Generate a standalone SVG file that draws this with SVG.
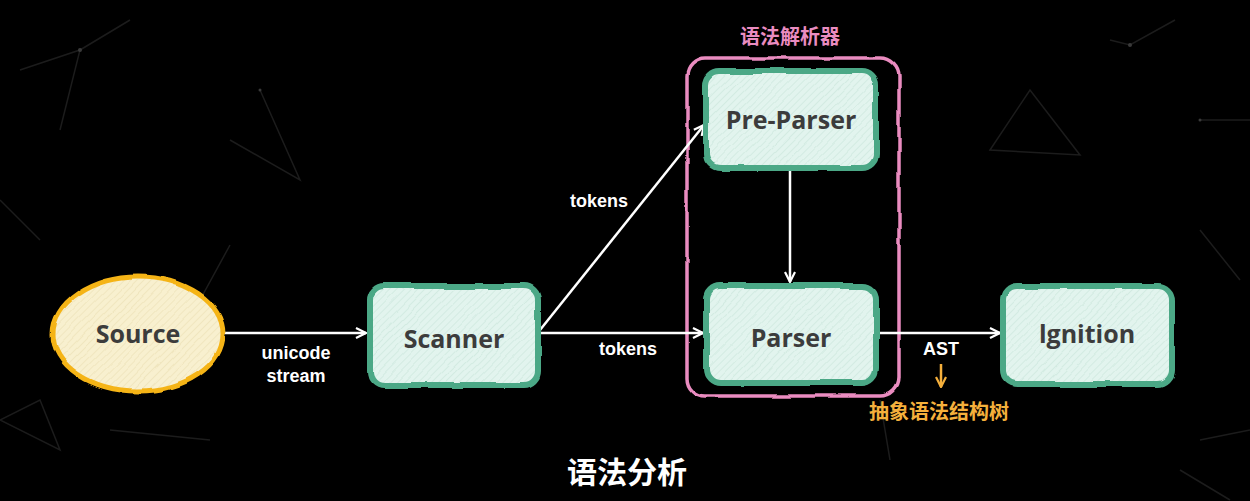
<svg xmlns="http://www.w3.org/2000/svg" width="1250" height="501" viewBox="0 0 1250 501">
<style>
.node-text{font-family:"Open Sans","Noto Sans","Noto Sans CJK SC",sans-serif;font-weight:700;font-size:25px;fill:#3c3c3c;text-anchor:middle;dominant-baseline:central}
.lbl{font-family:"Liberation Sans","Noto Sans CJK SC",sans-serif;font-weight:700;font-size:18px;fill:#ffffff;text-anchor:middle}
.cjk{font-family:"Noto Sans CJK SC",sans-serif;font-weight:700;text-anchor:middle}
.box{fill:url(#hatchG);stroke:#4ba886;stroke-width:6;filter:url(#rough)}
.conn{stroke:#ffffff;stroke-width:2.5;fill:none;marker-end:url(#arr)}
.bg{stroke:#1c1c1c;stroke-width:1.5;fill:none}
.star{fill:#3a3a3a}
</style>
<defs>
<pattern id="hatchG" width="5" height="5" patternUnits="userSpaceOnUse" patternTransform="rotate(45)">
<rect width="5" height="5" fill="#e2f4ee"/>
<line x1="0" y1="0" x2="0" y2="5" stroke="#c9e6db" stroke-width="1.2"/>
</pattern>
<pattern id="hatchY" width="5" height="5" patternUnits="userSpaceOnUse" patternTransform="rotate(45)">
<rect width="5" height="5" fill="#f8f0cf"/>
<line x1="0" y1="0" x2="0" y2="5" stroke="#ebe0b5" stroke-width="1.2"/>
</pattern>
<filter id="rough" x="-5%" y="-5%" width="110%" height="110%">
<feTurbulence type="fractalNoise" baseFrequency="0.03" numOctaves="2" seed="3" result="n"/>
<feDisplacementMap in="SourceGraphic" in2="n" scale="4" xChannelSelector="R" yChannelSelector="G"/>
</filter>
<marker id="arr" viewBox="0 0 12 12" refX="11" refY="6" markerWidth="12" markerHeight="12" markerUnits="userSpaceOnUse" orient="auto">
<path d="M1,1 L11,6 L1,11" fill="none" stroke="#ffffff" stroke-width="2.2"/>
</marker>
<marker id="arrO" viewBox="0 0 12 12" refX="11" refY="6" markerWidth="12" markerHeight="12" markerUnits="userSpaceOnUse" orient="auto">
<path d="M1,1 L11,6 L1,11" fill="none" stroke="#f5b03c" stroke-width="2.2"/>
</marker>
</defs>
<rect width="1250" height="501" fill="#000000"/>
<g id="background">
<path class="bg" d="M20,70 L80,50 L60,130 M80,50 L130,20 M0,200 L40,240 M230,140 L300,180 L260,90 M990,150 L1030,90 L1080,155 Z M1110,40 L1130,45 L1175,20 M1200,120 L1250,120 M1200,230 L1240,280 M0,420 L40,400 L60,450 Z M110,430 L210,440 M1200,440 L1250,430 M1180,470 L1230,500 M880,400 L890,460 M230,245 L200,300"/>
<circle class="star" cx="80" cy="50" r="2"/><circle class="star" cx="1130" cy="45" r="2"/><circle class="star" cx="260" cy="90" r="1.5"/><circle class="star" cx="1200" cy="120" r="1.5"/>
</g>
<g id="group-parser">
<rect x="687" y="58" width="212" height="338" rx="18" fill="none" stroke="#ea8cc0" stroke-width="3.5" filter="url(#rough)"/>
<text class="cjk" x="790" y="44" font-size="20" fill="#ea8cc0">语法解析器</text>
</g>
<g id="connectors">
<line class="conn" x1="224" y1="333" x2="366" y2="333"/>
<text class="lbl" x="296" y="359">unicode</text>
<text class="lbl" x="296" y="382">stream</text>
<line class="conn" x1="540" y1="330" x2="704" y2="125"/>
<text class="lbl" x="599" y="207">tokens</text>
<line class="conn" x1="540" y1="333" x2="703" y2="333"/>
<text class="lbl" x="628" y="355">tokens</text>
<line class="conn" x1="790" y1="170" x2="790" y2="282"/>
<line class="conn" x1="878" y1="333" x2="1000" y2="333"/>
<text class="lbl" x="941" y="355">AST</text>
<line x1="941" y1="364" x2="941" y2="387" stroke="#f5b03c" stroke-width="2.5" marker-end="url(#arrO)"/>
<text class="cjk" x="939" y="419" font-size="20" fill="#f5b03c">抽象语法结构树</text>
</g>
<g id="node-source">
<ellipse cx="138" cy="334" rx="85" ry="57" fill="url(#hatchY)" stroke="#f5b418" stroke-width="5" filter="url(#rough)"/>
<text class="node-text" x="138" y="333">Source</text>
</g>
<g id="node-scanner">
<rect class="box" x="370" y="286" width="168" height="99" rx="14"/>
<text class="node-text" x="454" y="338">Scanner</text>
</g>
<g id="node-preparser">
<rect class="box" x="706" y="71" width="170" height="97" rx="14"/>
<text class="node-text" x="791" y="119">Pre-Parser</text>
</g>
<g id="node-parser">
<rect class="box" x="706" y="286" width="170" height="97" rx="14"/>
<text class="node-text" x="791" y="337">Parser</text>
</g>
<g id="node-ignition">
<rect class="box" x="1003" y="286" width="169" height="98" rx="14"/>
<text class="node-text" x="1087" y="333">lgnition</text>
</g>
<text class="cjk" x="627" y="483" font-size="30" fill="#ffffff">语法分析</text>
</svg>
